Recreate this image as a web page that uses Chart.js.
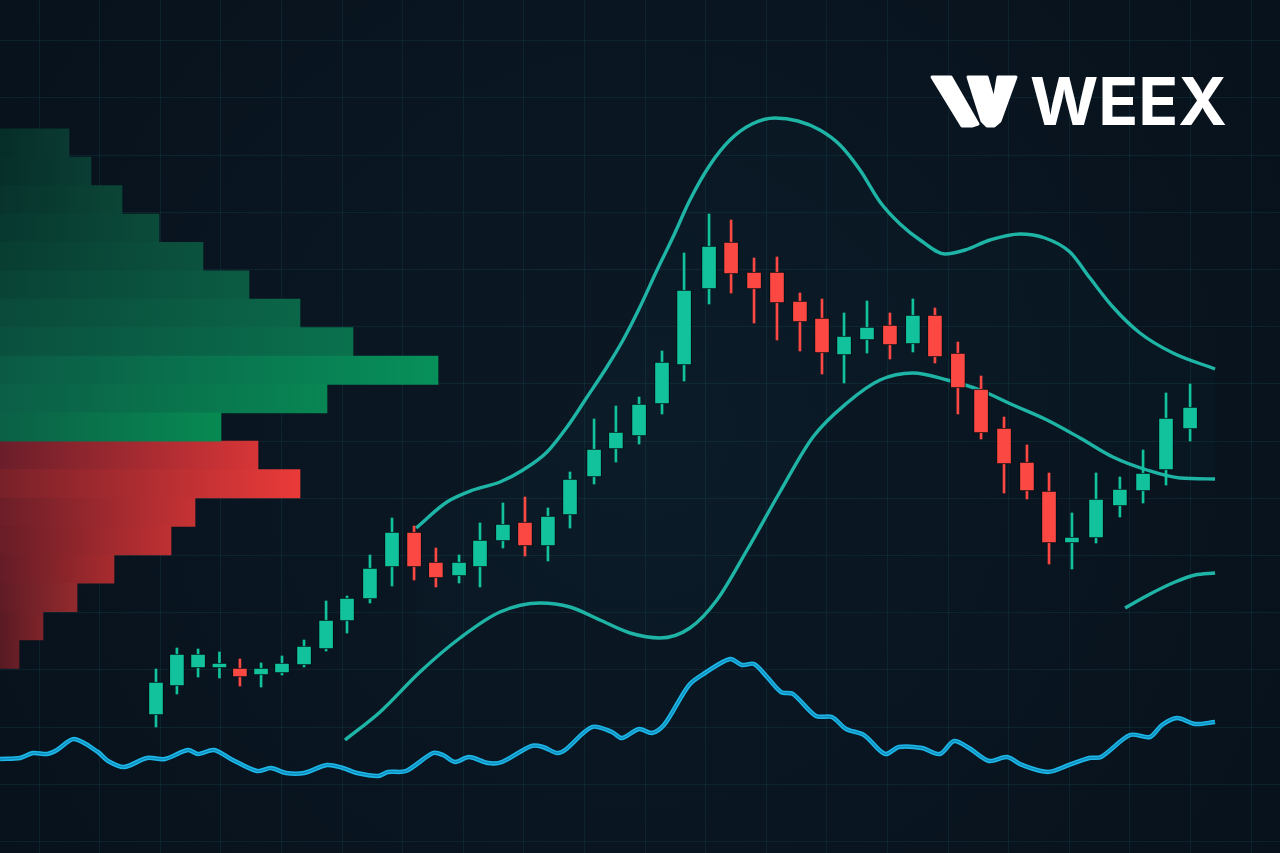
<!DOCTYPE html>
<html>
<head>
<meta charset="utf-8">
<title>WEEX price chart</title>
<script src="https://cdn.jsdelivr.net/npm/chart.js@4.4.1/dist/chart.umd.min.js"></script>
<style>
html,body{margin:0;padding:0;background:#08131e;overflow:hidden;}
#wrap{width:1280px;height:853px;}
canvas{display:block;}
</style>
</head>
<body>
<div id="wrap"><canvas id="chart" width="1280" height="853"></canvas></div>
<script>
// ================= DATA =================
// Candles: time position (bar units) and OHLC prices
const candleT = [0, 0.93, 1.87, 2.82, 3.73, 4.67, 5.60, 6.58, 7.56, 8.49, 9.51, 10.49, 11.47, 12.44, 13.47, 14.40, 15.42, 16.40, 17.42, 18.40, 19.47, 20.44, 21.47, 22.49, 23.47, 24.58, 25.56, 26.58, 27.60, 28.62, 29.60, 30.58, 31.60, 32.62, 33.64, 34.62, 35.64, 36.67, 37.69, 38.71, 39.69, 40.71, 41.78, 42.84, 43.87, 44.89, 45.96];
const candleOpen  = [61850, 62140, 62320, 62320, 62320, 62250, 62270, 62350, 62510, 62790, 63010, 63330, 63680, 63380, 63240, 63330, 63590, 63780, 63540, 63850, 64230, 64510, 64640, 64960, 65350, 66110, 66580, 66280, 66280, 65990, 65820, 65450, 65600, 65750, 65560, 65850, 65470, 65110, 64720, 64380, 64090, 63570, 63620, 63940, 64090, 64300, 64710];
const candleHigh  = [62310, 62520, 62510, 62480, 62410, 62370, 62440, 62600, 62990, 63040, 63450, 63820, 63740, 63520, 63450, 63770, 63970, 64030, 63920, 64280, 64810, 64940, 65030, 65490, 66470, 66860, 66800, 66420, 66430, 66070, 66010, 65870, 65990, 65870, 66010, 65920, 65580, 65240, 64830, 64550, 64270, 63870, 64270, 64230, 64500, 65070, 65160];
const candleLow   = [61730, 62060, 62230, 62220, 62140, 62130, 62250, 62330, 62490, 62670, 62970, 63140, 63200, 63130, 63170, 63130, 63520, 63440, 63390, 63720, 64160, 64380, 64560, 64860, 65190, 65960, 66070, 65770, 65600, 65490, 65260, 65170, 65470, 65410, 65480, 65370, 64860, 64610, 64070, 64010, 63360, 63310, 63570, 63830, 63970, 64150, 64590];
const candleClose = [62180, 62460, 62460, 62370, 62230, 62320, 62370, 62540, 62800, 63020, 63320, 63680, 63330, 63220, 63380, 63600, 63760, 63540, 63840, 64210, 64510, 64680, 64960, 65380, 66100, 66540, 66260, 66110, 65970, 65780, 65470, 65640, 65730, 65550, 65850, 65430, 65120, 64670, 64360, 64090, 63570, 63630, 64010, 64110, 64270, 64820, 64930];

// Envelope bands
const upperBandT = [11.56, 12.93, 14.09, 15.29, 16.31, 17.38, 18.27, 19.16, 20.04, 20.76, 21.51, 22.27, 22.98, 23.73, 24.62, 25.51, 26.49, 27.51, 28.53, 29.51, 30.40, 31.29, 32.18, 33.07, 33.96, 35.07, 35.96, 37.07, 38.40, 39.51, 40.62, 41.51, 42.53, 43.73, 45.20, 47.07];
const upperBandP = [63720, 63980, 64100, 64180, 64300, 64480, 64730, 65030, 65330, 65600, 65930, 66300, 66630, 67000, 67350, 67600, 67760, 67820, 67790, 67700, 67550, 67300, 66980, 66760, 66600, 66460, 66500, 66600, 66660, 66620, 66480, 66220, 65930, 65670, 65470, 65310];
const lowerBandT = [8.40, 9.96, 11.73, 13.51, 15.29, 17.07, 18.40, 19.73, 21.07, 22.40, 23.73, 24.93, 26.27, 27.73, 29.20, 30.71, 32.18, 33.64, 35.16, 36.62, 38.09, 39.60, 41.07, 42.53, 44.04, 45.51, 47.07];
const lowerBandP = [61600, 61880, 62280, 62620, 62880, 62970, 62930, 62800, 62670, 62620, 62720, 63000, 63500, 64080, 64630, 64970, 65200, 65270, 65200, 65100, 64950, 64800, 64620, 64430, 64300, 64220, 64210];
const tailBandT = [43.07, 44.18, 45.29, 46.18, 47.07];
const tailBandP = [62920, 63060, 63180, 63250, 63270];

// Oscillator (0-100)
const oscT = [-6.93, -6.04, -5.47, -4.84, -4.40, -3.64, -2.58, -2.13, -1.42, -0.40, 0.40, 1.42, 1.87, 2.58, 3.33, 4.49, 5.11, 5.78, 6.58, 7.60, 8.31, 8.93, 9.87, 10.31, 11.11, 12.31, 12.76, 13.29, 13.91, 14.76, 15.38, 16.67, 17.20, 17.82, 18.18, 19.38, 20.27, 20.71, 21.47, 22.04, 22.58, 23.69, 24.40, 25.51, 26.04, 26.58, 27.16, 27.78, 28.31, 29.33, 30.04, 30.67, 31.47, 32.40, 33.02, 34.04, 34.84, 35.47, 36.13, 37.02, 37.82, 38.49, 39.64, 40.58, 41.47, 42.00, 43.29, 44.18, 44.71, 45.38, 46.18, 47.07];
const oscV = [11.02, 11.14, 11.72, 11.61, 12.07, 13.36, 11.84, 10.79, 10.08, 11.14, 11.02, 12.07, 11.61, 12.07, 11.02, 9.61, 9.96, 9.38, 9.38, 10.32, 9.96, 9.38, 9.03, 9.50, 9.61, 11.72, 11.49, 10.67, 11.25, 10.55, 10.67, 12.54, 12.43, 11.72, 12.07, 14.77, 14.18, 13.48, 14.54, 14.07, 15.01, 19.69, 21.10, 22.74, 22.04, 22.16, 20.63, 18.87, 18.64, 16.06, 15.94, 14.54, 13.83, 11.61, 12.43, 12.31, 11.61, 13.13, 12.31, 10.79, 11.25, 10.32, 9.50, 10.32, 11.14, 11.25, 13.83, 13.60, 15.01, 15.83, 15.12, 15.36];

// Volume profile (price level -> volume)
const buyLevels  = [67570, 67286, 67002, 66718, 66434, 66150, 65866, 65582, 65298, 65014, 64730];
const buyVolume  = [138, 182, 244, 318, 406, 498, 600, 706, 876, 654, 442];
const sellLevels = [64446, 64162, 63878, 63594, 63310, 63026, 62742, 62458];
const sellVolume = [516, 600, 390, 342, 228, 154, 86, 38];

// Grid tick indices
const gridXTicks = [0,1,2,3,4,5,6,7,8,9,10,11,12,13,14,15,16,17,18,19,20];
const gridYTicks = [0,1,2,3,4,5,6,7,8,9,10,11,12,13,14];

// ================= STYLES =================
const UP = '#12c29c', DOWN = '#fb4842';
const buyLeft  = ['#062d28','#062f29','#07332c','#07382f','#083d32','#094336','#0a4a3a','#0a503e','#0b5a44','#0b5e46','#0b6046'];
const buyRight = ['#0a3a31','#0a3d33','#0b4536','#0b4b3a','#0b533e','#0b5c43','#0b6648','#0a714d','#07905a','#088653','#078a52'];
const sellLeft  = ['#6a1e2a','#782129','#6c1e28','#681d27','#641c26','#5f1b25','#5a1a24','#571a23'];
const sellRight = ['#d73537','#ea3a39','#c63234','#bf3032','#a82b2e','#932a2d','#7e2429','#6a1f27'];

const bodyColors = candleOpen.map((o, i) => candleClose[i] >= o ? UP : DOWN);

function profileFill(leftArr, rightArr, volArr) {
  return (c) => {
    const i = c.dataIndex;
    if (i === undefined) return rightArr[0];
    const chart = c.chart;
    const xs = chart.scales.xv;
    if (!xs) return rightArr[i];
    const x0 = xs.getPixelForValue(0);
    const x1 = xs.getPixelForValue(volArr[i]);
    if (!isFinite(x0) || !isFinite(x1)) return rightArr[i];
    const g = chart.ctx.createLinearGradient(x0, 0, Math.max(x1, x0 + 1), 0);
    g.addColorStop(0, leftArr[i]);
    g.addColorStop(1, rightArr[i]);
    return g;
  };
}

const bgPlugin = {
  id: 'bg',
  beforeDraw(chart) {
    const { ctx, width, height } = chart;
    ctx.save();
    const g = ctx.createRadialGradient(width * 0.5, height * 0.5, 40, width * 0.5, height * 0.5, width * 0.75);
    g.addColorStop(0, '#0b1824');
    g.addColorStop(1, '#06101a');
    ctx.fillStyle = g;
    ctx.fillRect(0, 0, width, height);
    ctx.restore();
  }
};

const logoPlugin = {
  id: 'logo',
  afterDraw(chart) {
    const ctx = chart.ctx;
    const right = chart.width - 53, base = 125, top = 77;
    ctx.save();
    ctx.fillStyle = '#ffffff';
    ctx.strokeStyle = '#ffffff';
    ctx.lineJoin = 'round';
    ctx.lineWidth = 3;
    const ox = right - 295;
    const shapes = [
      [[0,0],[19,0],[46,47],[40,49],[30,49]],
      [[36,0],[55,0],[62,24],[66,0],[84,0],[68,44],[62,49],[55,49],[50,44]]
    ];
    shapes.forEach(s => {
      ctx.beginPath();
      s.forEach((p, k) => { const X = ox + p[0], Y = top + p[1]; k ? ctx.lineTo(X, Y) : ctx.moveTo(X, Y); });
      ctx.closePath();
      ctx.fill();
      ctx.stroke();
    });
    ctx.font = '700 66px Inter, "Open Sans", sans-serif';
    ctx.textBaseline = 'alphabetic';
    const target = 197;
    const w = ctx.measureText('WEEX').width;
    ctx.translate(right - target, base);
    ctx.scale(target / w, 1);
    ctx.fillText('WEEX', 0, 0);
    ctx.restore();
  }
};

const lowerIndex = 5;

const chart = new Chart(document.getElementById('chart'), {
  type: 'bar',
  data: {
    datasets: [
      { type: 'bar', label: 'Body', data: candleT.map((t, i) => ({ x: t, y: [candleOpen[i], candleClose[i]] })),
        xAxisID: 'x', yAxisID: 'y', backgroundColor: bodyColors, borderColor: 'rgba(3,16,20,0.9)', borderWidth: 1,
        borderSkipped: false, barThickness: 15, grouped: false, order: 1 },
      { type: 'bar', label: 'Wick', data: candleT.map((t, i) => ({ x: t, y: [candleLow[i], candleHigh[i]] })),
        xAxisID: 'x', yAxisID: 'y', backgroundColor: bodyColors, borderWidth: 0, barThickness: 2, grouped: false, order: 2 },
      { type: 'line', label: 'Osc core', data: oscT.map((t, i) => ({ x: t, y: oscV[i] })), xAxisID: 'x', yAxisID: 'yo',
        borderColor: 'rgba(10,120,170,0.7)', borderWidth: 1.3, pointRadius: 0, tension: 0.3, order: 3 },
      { type: 'line', label: 'Oscillator', data: oscT.map((t, i) => ({ x: t, y: oscV[i] })), xAxisID: 'x', yAxisID: 'yo',
        borderColor: '#1db7e7', borderWidth: 4.5, pointRadius: 0, tension: 0.3, order: 4 },
      { type: 'line', label: 'Upper band', data: upperBandT.map((t, i) => ({ x: t, y: upperBandP[i] })), xAxisID: 'x', yAxisID: 'y',
        borderColor: '#1fb5a6', borderWidth: 3.4, pointRadius: 0, cubicInterpolationMode: 'monotone',
        fill: { target: lowerIndex, above: 'rgba(40,170,160,0.025)', below: 'rgba(40,170,160,0.025)' }, order: 5 },
      { type: 'line', label: 'Lower band', data: lowerBandT.map((t, i) => ({ x: t, y: lowerBandP[i] })), xAxisID: 'x', yAxisID: 'y',
        borderColor: '#1fb5a6', borderWidth: 3.4, pointRadius: 0, cubicInterpolationMode: 'monotone', fill: false, order: 6 },
      { type: 'line', label: 'Band tail', data: tailBandT.map((t, i) => ({ x: t, y: tailBandP[i] })), xAxisID: 'x', yAxisID: 'y',
        borderColor: '#1fb5a6', borderWidth: 3.4, pointRadius: 0, cubicInterpolationMode: 'monotone', fill: false, order: 7 },
      { type: 'bar', indexAxis: 'y', label: 'Buy volume', data: buyLevels.map((l, i) => ({ y: l, x: buyVolume[i] })),
        xAxisID: 'xv', yAxisID: 'yp', grouped: false, barPercentage: 1, categoryPercentage: 1, borderWidth: 0,
        backgroundColor: profileFill(buyLeft, buyRight, buyVolume), order: 8 },
      { type: 'bar', indexAxis: 'y', label: 'Sell volume', data: sellLevels.map((l, i) => ({ y: l, x: sellVolume[i] })),
        xAxisID: 'xv', yAxisID: 'yp', grouped: false, barPercentage: 1, categoryPercentage: 1, borderWidth: 0,
        backgroundColor: profileFill(sellLeft, sellRight, sellVolume), order: 9 }
    ]
  },
  options: {
    responsive: false,
    maintainAspectRatio: false,
    animation: false,
    devicePixelRatio: 1,
    layout: { padding: 0 },
    plugins: { legend: { display: false }, tooltip: { enabled: false } },
    scales: {
      x:  { type: 'linear', axis: 'x', display: false, min: -6.933, max: 49.956, bounds: 'data', offset: false, grid: { offset: false } },
      y:  { type: 'linear', axis: 'y', display: false, min: 60470, max: 69000, bounds: 'data' },
      yp: { type: 'linear', axis: 'y', display: false, min: 60470, max: 69000, bounds: 'data', afterBuildTicks: s => { s.ticks = []; } },
      yo: { type: 'linear', axis: 'y', display: false, min: 0, max: 100, bounds: 'data' },
      xv: { type: 'linear', axis: 'x', display: false, min: 0, max: 2560, bounds: 'data', offset: false, grid: { offset: false } },
      xGrid: { type: 'linear', axis: 'x', position: 'bottom', min: -0.6436, max: 20.478, bounds: 'data', offset: false,
        afterBuildTicks: s => { s.ticks = gridXTicks.map(v => ({ value: v })); },
        ticks: { display: false }, border: { display: false },
        grid: { color: 'rgba(30,100,112,0.2)', lineWidth: 1, drawTicks: false, offset: false } },
      yGrid: { type: 'linear', axis: 'y', position: 'left', reverse: true, min: -0.7115, max: 14.2, bounds: 'data',
        afterBuildTicks: s => { s.ticks = gridYTicks.map(v => ({ value: v })); },
        ticks: { display: false }, border: { display: false },
        grid: { color: 'rgba(30,100,112,0.2)', lineWidth: 1, drawTicks: false } }
    }
  },
  plugins: [bgPlugin, logoPlugin]
});
</script>
</body>
</html>
